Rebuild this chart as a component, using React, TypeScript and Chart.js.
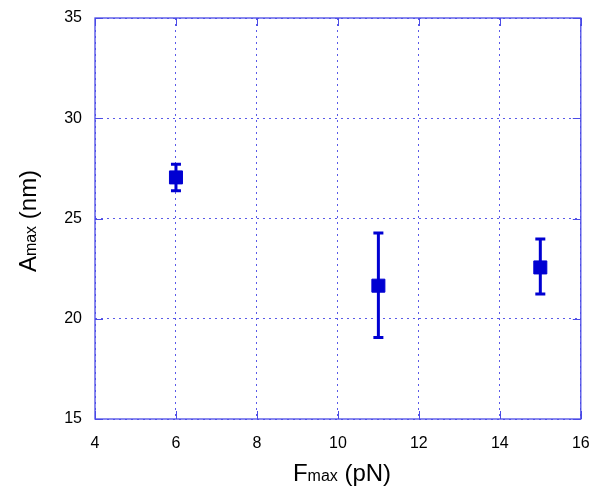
import React, { useEffect, useRef } from 'react';
import { Chart, registerables } from 'chart.js';

Chart.register(...registerables);

const xValues = [6, 11, 15];
const yValues = [27.05, 21.65, 22.56];
const yErrLow = [26.38, 19.06, 21.23];
const yErrHigh = [27.7, 24.28, 23.98];
const xTickValues = [4, 6, 8, 10, 12, 14, 16];
const yTickValues = [15, 20, 25, 30, 35];

const MARK = '#0000d2';
const FRAME = '#4b4be6';
const GRID = '#5a5ae8';
const FONT = '"Liberation Sans", Arial, sans-serif';

const overlay = {
  id: 'overlay',
  beforeDatasetsDraw(chart: any) {
    const { ctx, chartArea } = chart;
    const xs = chart.scales.x;
    const ys = chart.scales.y;
    ctx.save();
    ctx.strokeStyle = FRAME;
    ctx.lineWidth = 1;
    const tl = 8;
    xTickValues.forEach((v) => {
      const px = Math.round(xs.getPixelForValue(v)) + 0.5;
      ctx.beginPath();
      ctx.moveTo(px, chartArea.bottom);
      ctx.lineTo(px, chartArea.bottom - tl);
      ctx.moveTo(px, chartArea.top);
      ctx.lineTo(px, chartArea.top + tl);
      ctx.stroke();
    });
    yTickValues.forEach((v) => {
      const py = Math.round(ys.getPixelForValue(v)) + 0.5;
      ctx.beginPath();
      ctx.moveTo(chartArea.left, py);
      ctx.lineTo(chartArea.left + tl, py);
      ctx.moveTo(chartArea.right, py);
      ctx.lineTo(chartArea.right - tl, py);
      ctx.stroke();
    });
    ctx.strokeStyle = FRAME;
    ctx.lineWidth = 1.3;
    ctx.strokeRect(chartArea.left, chartArea.top, chartArea.right - chartArea.left, chartArea.bottom - chartArea.top);
    ctx.strokeStyle = MARK;
    ctx.lineWidth = 3;
    const cap = 5;
    xValues.forEach((x, i) => {
      const px = xs.getPixelForValue(x);
      const pLo = ys.getPixelForValue(yErrLow[i]);
      const pHi = ys.getPixelForValue(yErrHigh[i]);
      ctx.beginPath();
      ctx.moveTo(px, pLo);
      ctx.lineTo(px, pHi);
      ctx.moveTo(px - cap, pLo);
      ctx.lineTo(px + cap, pLo);
      ctx.moveTo(px - cap, pHi);
      ctx.lineTo(px + cap, pHi);
      ctx.stroke();
    });
    ctx.restore();
  },
  afterDraw(chart: any) {
    const { ctx } = chart;
    ctx.save();
    ctx.fillStyle = '#000';
    ctx.textBaseline = 'alphabetic';
    const big = `24px ${FONT}`;
    const small = `16px ${FONT}`;
    const drawParts = (parts: [string, string][], cx: number, cy: number, rot: number) => {
      let total = 0;
      parts.forEach(([t, f]) => {
        ctx.font = f;
        total += ctx.measureText(t).width;
      });
      ctx.save();
      ctx.translate(cx, cy);
      ctx.rotate(rot);
      let x = -total / 2;
      ctx.textAlign = 'left';
      parts.forEach(([t, f]) => {
        ctx.font = f;
        ctx.fillText(t, x, 0);
        x += ctx.measureText(t).width;
      });
      ctx.restore();
    };
    drawParts([['F', big], ['max', small], [' (pN)', big]], 342, 481, 0);
    drawParts([['A', big], ['max', small], [' (nm)', big]], 36, 221, -Math.PI / 2);
    ctx.restore();
  },
};

export default function App() {
  const ref = useRef<HTMLCanvasElement>(null);
  useEffect(() => {
    document.body.style.margin = '0';
    const chart = new Chart(ref.current as HTMLCanvasElement, {
      type: 'scatter',
      data: {
        datasets: [
          {
            data: xValues.map((x, i) => ({ x, y: yValues[i] })),
            backgroundColor: MARK,
            borderColor: MARK,
            borderWidth: 1,
            pointStyle: 'rect',
            pointRadius: 9.2,
            pointHoverRadius: 9.2,
          },
        ],
      },
      options: {
        animation: false,
        responsive: false,
        maintainAspectRatio: false,
        layout: { padding: { left: 0, top: 18, right: 9, bottom: 0 } },
        plugins: { legend: { display: false }, tooltip: { enabled: false } },
        scales: {
          x: {
            type: 'linear',
            min: 4,
            max: 16,
            afterBuildTicks: (s: any) => {
              s.ticks = xTickValues.map((v) => ({ value: v }));
            },
            afterFit: (s: any) => {
              s.height = 72;
              s.paddingLeft = 0;
              s.paddingRight = 0;
            },
            ticks: { color: '#000', font: { family: FONT, size: 16 }, padding: 15 },
            grid: { color: GRID, lineWidth: 1, drawTicks: false },
            border: { display: false, dash: [2, 4] },
          },
          y: {
            type: 'linear',
            min: 15,
            max: 35,
            afterBuildTicks: (s: any) => {
              s.ticks = yTickValues.map((v) => ({ value: v }));
            },
            afterFit: (s: any) => {
              s.width = 95;
              s.paddingTop = 0;
              s.paddingBottom = 0;
            },
            ticks: { color: '#000', font: { family: FONT, size: 16 }, padding: 13 },
            grid: { color: GRID, lineWidth: 1, drawTicks: false },
            border: { display: false, dash: [2, 4] },
          },
        },
      },
      plugins: [overlay],
    } as any);
    return () => chart.destroy();
  }, []);
  return (
    <div style={{ position: 'absolute', left: 0, top: 0, width: 591, height: 491, background: '#fff' }}>
      <canvas ref={ref} width={591} height={491} style={{ width: 591, height: 491 }} />
    </div>
  );
}
